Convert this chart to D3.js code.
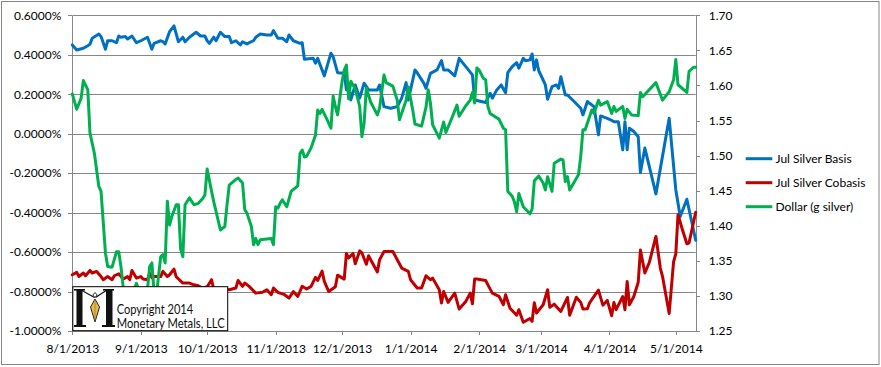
<!DOCTYPE html>
<html><head><meta charset="utf-8">
<script src="https://cdn.jsdelivr.net/npm/d3@7/dist/d3.min.js"></script>
<style>
html,body{margin:0;padding:0;background:#fff;}
svg{display:block;font-family:Lato,"Liberation Sans",sans-serif;}
</style></head>
<body><svg id="c" width="881" height="367"></svg>
<script>
const basisDates = ["2013-08-01","2013-08-03","2013-08-06","2013-08-08","2013-08-09","2013-08-10","2013-08-13","2013-08-14","2013-08-16","2013-08-17","2013-08-19","2013-08-21","2013-08-22","2013-08-23","2013-08-25","2013-08-26","2013-08-28","2013-08-30","2013-09-01","2013-09-04","2013-09-06","2013-09-07","2013-09-10","2013-09-11","2013-09-12","2013-09-14","2013-09-16","2013-09-18","2013-09-20","2013-09-21","2013-09-23","2013-09-26","2013-09-28","2013-09-30","2013-10-01","2013-10-02","2013-10-04","2013-10-05","2013-10-07","2013-10-09","2013-10-11","2013-10-12","2013-10-14","2013-10-16","2013-10-17","2013-10-19","2013-10-20","2013-10-22","2013-10-23","2013-10-25","2013-10-28","2013-10-30","2013-10-31","2013-11-02","2013-11-04","2013-11-06","2013-11-07","2013-11-09","2013-11-12","2013-11-13","2013-11-14","2013-11-18","2013-11-19","2013-11-20","2013-11-23","2013-11-26","2013-11-27","2013-11-29","2013-12-02","2013-12-03","2013-12-04","2013-12-05","2013-12-07","2013-12-09","2013-12-11","2013-12-13","2013-12-17","2013-12-18","2013-12-20","2013-12-23","2013-12-26","2013-12-28","2013-12-30","2013-12-31","2014-01-03","2014-01-04","2014-01-07","2014-01-08","2014-01-10","2014-01-13","2014-01-15","2014-01-16","2014-01-18","2014-01-21","2014-01-23","2014-01-26","2014-01-29","2014-01-30","2014-02-02","2014-02-04","2014-02-06","2014-02-07","2014-02-09","2014-02-11","2014-02-13","2014-02-14","2014-02-16","2014-02-18","2014-02-19","2014-02-21","2014-02-22","2014-02-24","2014-02-25","2014-02-26","2014-02-27","2014-02-28","2014-03-02","2014-03-03","2014-03-04","2014-03-06","2014-03-08","2014-03-09","2014-03-10","2014-03-12","2014-03-13","2014-03-16","2014-03-19","2014-03-20","2014-03-22","2014-03-23","2014-03-25","2014-03-27","2014-03-28","2014-03-31","2014-04-01","2014-04-03","2014-04-05","2014-04-07","2014-04-08","2014-04-09","2014-04-10","2014-04-12","2014-04-14","2014-04-15","2014-04-17","2014-04-22","2014-04-28","2014-05-01","2014-05-03","2014-05-06","2014-05-10"];
const basisValues = [0.450,0.424,0.433,0.446,0.453,0.484,0.505,0.492,0.428,0.471,0.471,0.461,0.495,0.489,0.492,0.480,0.495,0.461,0.471,0.489,0.428,0.458,0.471,0.466,0.455,0.517,0.546,0.466,0.489,0.466,0.489,0.514,0.495,0.495,0.471,0.458,0.489,0.471,0.514,0.492,0.492,0.461,0.471,0.450,0.466,0.455,0.461,0.471,0.489,0.505,0.500,0.500,0.522,0.484,0.484,0.466,0.500,0.471,0.458,0.461,0.377,0.382,0.357,0.382,0.293,0.408,0.390,0.309,0.306,0.222,0.256,0.171,0.247,0.180,0.256,0.222,0.222,0.247,0.137,0.129,0.137,0.180,0.259,0.171,0.323,0.309,0.256,0.230,0.306,0.323,0.370,0.323,0.323,0.293,0.382,0.340,0.298,0.171,0.163,0.158,0.205,0.180,0.222,0.247,0.208,0.309,0.340,0.360,0.332,0.382,0.370,0.374,0.404,0.323,0.374,0.319,0.272,0.247,0.175,0.238,0.247,0.230,0.289,0.196,0.196,0.163,0.129,0.095,0.163,0.154,0.137,-0.006,0.090,0.078,0.073,0.061,0.061,-0.082,0.061,-0.082,0.028,0.011,-0.015,-0.197,-0.073,-0.305,0.078,-0.285,-0.420,-0.332,-0.540];

const cobasisDates = ["2013-08-01","2013-08-03","2013-08-04","2013-08-06","2013-08-07","2013-08-09","2013-08-10","2013-08-12","2013-08-14","2013-08-15","2013-08-17","2013-08-19","2013-08-20","2013-08-22","2013-08-24","2013-08-26","2013-08-27","2013-08-28","2013-08-30","2013-09-01","2013-09-02","2013-09-04","2013-09-05","2013-09-06","2013-09-07","2013-09-09","2013-09-10","2013-09-11","2013-09-13","2013-09-14","2013-09-16","2013-09-17","2013-09-20","2013-09-23","2013-09-25","2013-09-27","2013-09-29","2013-10-01","2013-10-03","2013-10-04","2013-10-07","2013-10-11","2013-10-14","2013-10-15","2013-10-17","2013-10-18","2013-10-20","2013-10-23","2013-10-26","2013-10-28","2013-10-30","2013-10-31","2013-11-02","2013-11-03","2013-11-05","2013-11-07","2013-11-09","2013-11-11","2013-11-13","2013-11-15","2013-11-17","2013-11-19","2013-11-20","2013-11-22","2013-11-23","2013-11-25","2013-11-28","2013-11-29","2013-12-02","2013-12-03","2013-12-04","2013-12-06","2013-12-07","2013-12-09","2013-12-10","2013-12-12","2013-12-13","2013-12-17","2013-12-18","2013-12-20","2013-12-24","2013-12-26","2013-12-28","2013-12-31","2014-01-01","2014-01-04","2014-01-06","2014-01-08","2014-01-10","2014-01-11","2014-01-14","2014-01-15","2014-01-16","2014-01-18","2014-01-21","2014-01-23","2014-01-26","2014-01-28","2014-01-29","2014-01-30","2014-01-31","2014-02-04","2014-02-05","2014-02-07","2014-02-10","2014-02-12","2014-02-13","2014-02-15","2014-02-18","2014-02-19","2014-02-21","2014-02-24","2014-02-25","2014-02-26","2014-02-27","2014-03-02","2014-03-04","2014-03-05","2014-03-07","2014-03-10","2014-03-13","2014-03-14","2014-03-17","2014-03-19","2014-03-20","2014-03-22","2014-03-23","2014-03-25","2014-03-27","2014-03-29","2014-03-31","2014-04-02","2014-04-03","2014-04-04","2014-04-07","2014-04-08","2014-04-09","2014-04-10","2014-04-12","2014-04-14","2014-04-15","2014-04-17","2014-04-19","2014-04-22","2014-04-24","2014-04-25","2014-04-28","2014-04-30","2014-05-01","2014-05-02","2014-05-04","2014-05-06","2014-05-07","2014-05-10"];
const cobasisValues = [-0.715,-0.703,-0.724,-0.706,-0.720,-0.693,-0.706,-0.698,-0.724,-0.740,-0.724,-0.740,-0.720,-0.710,-0.737,-0.724,-0.740,-0.693,-0.732,-0.724,-0.737,-0.740,-0.706,-0.730,-0.724,-0.724,-0.724,-0.698,-0.724,-0.715,-0.686,-0.725,-0.757,-0.757,-0.766,-0.771,-0.782,-0.776,-0.740,-0.791,-0.786,-0.791,-0.782,-0.744,-0.774,-0.757,-0.774,-0.808,-0.804,-0.791,-0.816,-0.782,-0.804,-0.808,-0.816,-0.833,-0.800,-0.825,-0.773,-0.787,-0.774,-0.728,-0.744,-0.696,-0.749,-0.800,-0.776,-0.717,-0.737,-0.607,-0.630,-0.607,-0.659,-0.594,-0.604,-0.662,-0.619,-0.701,-0.639,-0.597,-0.597,-0.639,-0.681,-0.698,-0.740,-0.782,-0.782,-0.720,-0.740,-0.732,-0.791,-0.858,-0.800,-0.855,-0.808,-0.889,-0.850,-0.808,-0.862,-0.737,-0.737,-0.744,-0.766,-0.808,-0.824,-0.867,-0.816,-0.885,-0.920,-0.892,-0.956,-0.937,-0.951,-0.857,-0.909,-0.867,-0.791,-0.880,-0.864,-0.901,-0.830,-0.920,-0.829,-0.855,-0.888,-0.887,-0.857,-0.825,-0.793,-0.869,-0.845,-0.923,-0.855,-0.892,-0.825,-0.892,-0.749,-0.867,-0.825,-0.753,-0.590,-0.706,-0.653,-0.521,-0.681,-0.724,-0.911,-0.649,-0.609,-0.411,-0.487,-0.558,-0.553,-0.398];

const dollarDates = ["2013-08-01","2013-08-03","2013-08-05","2013-08-06","2013-08-08","2013-08-09","2013-08-11","2013-08-13","2013-08-14","2013-08-16","2013-08-17","2013-08-19","2013-08-21","2013-08-22","2013-08-23","2013-08-24","2013-08-26","2013-08-28","2013-08-30","2013-08-31","2013-09-02","2013-09-04","2013-09-05","2013-09-06","2013-09-07","2013-09-08","2013-09-10","2013-09-11","2013-09-12","2013-09-13","2013-09-14","2013-09-15","2013-09-17","2013-09-18","2013-09-19","2013-09-20","2013-09-21","2013-09-23","2013-09-25","2013-09-27","2013-09-29","2013-09-30","2013-10-01","2013-10-03","2013-10-04","2013-10-07","2013-10-09","2013-10-10","2013-10-11","2013-10-14","2013-10-15","2013-10-17","2013-10-18","2013-10-19","2013-10-21","2013-10-22","2013-10-23","2013-10-24","2013-10-25","2013-10-30","2013-10-31","2013-11-01","2013-11-02","2013-11-03","2013-11-04","2013-11-06","2013-11-08","2013-11-11","2013-11-12","2013-11-13","2013-11-14","2013-11-15","2013-11-17","2013-11-19","2013-11-20","2013-11-21","2013-11-22","2013-11-24","2013-11-26","2013-11-27","2013-11-28","2013-11-29","2013-12-01","2013-12-02","2013-12-03","2013-12-04","2013-12-05","2013-12-07","2013-12-09","2013-12-10","2013-12-11","2013-12-12","2013-12-14","2013-12-17","2013-12-18","2013-12-20","2013-12-21","2013-12-24","2013-12-26","2013-12-27","2013-12-30","2013-12-31","2014-01-02","2014-01-03","2014-01-06","2014-01-08","2014-01-09","2014-01-10","2014-01-11","2014-01-14","2014-01-16","2014-01-17","2014-01-20","2014-01-22","2014-01-23","2014-01-26","2014-01-28","2014-01-29","2014-01-30","2014-01-31","2014-02-01","2014-02-03","2014-02-04","2014-02-05","2014-02-06","2014-02-10","2014-02-12","2014-02-13","2014-02-14","2014-02-16","2014-02-17","2014-02-18","2014-02-19","2014-02-21","2014-02-24","2014-02-25","2014-02-26","2014-02-28","2014-03-02","2014-03-03","2014-03-04","2014-03-06","2014-03-07","2014-03-10","2014-03-11","2014-03-12","2014-03-13","2014-03-14","2014-03-18","2014-03-19","2014-03-20","2014-03-21","2014-03-24","2014-03-25","2014-03-27","2014-03-28","2014-03-31","2014-04-02","2014-04-03","2014-04-04","2014-04-07","2014-04-08","2014-04-09","2014-04-11","2014-04-14","2014-04-15","2014-04-16","2014-04-22","2014-04-25","2014-04-28","2014-04-30","2014-05-01","2014-05-02","2014-05-06","2014-05-07","2014-05-09","2014-05-10"];
const dollarValues = [1.588,1.566,1.582,1.607,1.594,1.532,1.503,1.456,1.449,1.361,1.342,1.341,1.363,1.363,1.342,1.313,1.294,1.300,1.318,1.309,1.294,1.309,1.342,1.347,1.305,1.300,1.356,1.359,1.347,1.435,1.401,1.413,1.430,1.430,1.367,1.356,1.430,1.440,1.430,1.432,1.439,1.444,1.481,1.449,1.434,1.394,1.399,1.430,1.458,1.466,1.468,1.461,1.423,1.418,1.399,1.373,1.382,1.373,1.380,1.382,1.373,1.427,1.425,1.432,1.437,1.427,1.449,1.457,1.503,1.508,1.498,1.499,1.511,1.529,1.565,1.560,1.566,1.553,1.539,1.585,1.570,1.558,1.605,1.622,1.629,1.581,1.606,1.595,1.570,1.527,1.546,1.596,1.576,1.558,1.568,1.615,1.604,1.599,1.579,1.551,1.579,1.598,1.565,1.545,1.542,1.569,1.594,1.575,1.544,1.525,1.548,1.533,1.556,1.572,1.556,1.571,1.579,1.590,1.575,1.625,1.622,1.610,1.608,1.570,1.560,1.552,1.539,1.537,1.449,1.442,1.434,1.420,1.446,1.427,1.417,1.424,1.464,1.471,1.461,1.451,1.470,1.449,1.489,1.495,1.494,1.463,1.470,1.451,1.473,1.499,1.537,1.537,1.565,1.560,1.579,1.572,1.577,1.560,1.570,1.563,1.570,1.553,1.566,1.558,1.557,1.590,1.584,1.604,1.579,1.591,1.608,1.637,1.601,1.590,1.620,1.626,1.626];

const seriesNames = ["Jul Silver Basis","Jul Silver Cobasis","Dollar (g silver)"];
const seriesColors = ["#0070C0","#C00000","#00B050"];
const leftTicks = [-1.0,-0.8,-0.6,-0.4,-0.2,0,0.2,0.4,0.6];
const rightTicks = [1.25,1.30,1.35,1.40,1.45,1.50,1.55,1.60,1.65,1.70];
const monthTicks = ["2013-08-01","2013-09-01","2013-10-01","2013-11-01","2013-12-01","2014-01-01","2014-02-01","2014-03-01","2014-04-01","2014-05-01"];
const xDomain = ["2013-08-01","2014-05-10"];
const logoLines = ["Copyright 2014","Monetary Metals, LLC"];

const parse = d3.timeParse("%Y-%m-%d");
const svg = d3.select("#c");
const GRID = "#868686";
const L = 72.3, R = 695.7, T = 15.3, B = 331;

svg.append("rect").attr("x",1.5).attr("y",1.5).attr("width",877.5).attr("height",363)
  .attr("fill","#fff").attr("stroke",GRID).attr("stroke-width",1);

const x = d3.scaleTime().domain(xDomain.map(parse)).range([L, R]);
const yL = d3.scaleLinear().domain([-1.0, 0.6]).range([B, T]);
const yR = d3.scaleLinear().domain([1.25, 1.70]).range([B, T]);

// gridlines
svg.append("g").selectAll("line").data(leftTicks).join("line")
  .attr("x1",L).attr("x2",R).attr("y1",d=>Math.round(yL(d))+0.5).attr("y2",d=>Math.round(yL(d))+0.5)
  .attr("stroke",GRID).attr("stroke-width",1);

function styleAxis(g){
  g.selectAll(".domain").attr("stroke",GRID).attr("shape-rendering","crispEdges");
  g.selectAll(".tick line").attr("stroke",GRID).attr("shape-rendering","crispEdges");
  g.selectAll("text").attr("fill","#000").attr("font-size","12px").attr("font-family","Lato, 'Liberation Sans', sans-serif");
}
const fmtL = d => (d<0?"-":"") + Math.abs(d).toFixed(4) + "%";
svg.append("g").attr("transform",`translate(${L},0)`)
  .call(d3.axisLeft(yL).tickValues(leftTicks).tickFormat(fmtL).tickSize(4).tickSizeOuter(0).tickPadding(7))
  .call(styleAxis);
svg.append("g").attr("transform",`translate(${R},0)`)
  .call(d3.axisRight(yR).tickValues(rightTicks).tickFormat(d=>d.toFixed(2)).tickSize(4).tickSizeOuter(0).tickPadding(9))
  .call(styleAxis);
svg.append("g").attr("transform",`translate(0,${B})`)
  .call(d3.axisBottom(x).tickValues(monthTicks.map(parse)).tickFormat(d3.timeFormat("%-m/%-d/%Y")).tickSize(4).tickSizeOuter(0).tickPadding(9))
  .call(styleAxis);

// series
function series(dates, values){ return dates.map((d,i)=>({date:parse(d), v:values[i]})); }
const basis = series(basisDates, basisValues);
const cobasis = series(cobasisDates, cobasisValues);
const dollar = series(dollarDates, dollarValues);

const lineL = d3.line().x(d=>x(d.date)).y(d=>yL(d.v));
const lineR = d3.line().x(d=>x(d.date)).y(d=>yR(d.v));
const lg = svg.append("g").attr("fill","none").attr("stroke-width",3).attr("stroke-linejoin","round").attr("stroke-linecap","round");
lg.append("path").datum(basis).attr("d",lineL).attr("stroke",seriesColors[0]);
lg.append("path").datum(cobasis).attr("d",lineL).attr("stroke",seriesColors[1]);
lg.append("path").datum(dollar).attr("d",lineR).attr("stroke",seriesColors[2]);

// legend
const legY = [158.7, 182.7, 206.7];
const leg = svg.append("g");
seriesNames.forEach((n,i)=>{
  leg.append("line").attr("x1",745.7).attr("x2",772.3).attr("y1",legY[i]).attr("y2",legY[i])
    .attr("stroke",seriesColors[i]).attr("stroke-width",3);
  leg.append("text").attr("x",775.5).attr("y",legY[i]).attr("dy","0.35em")
    .attr("font-size","12px").attr("fill","#000").text(n);
});

// logo box
const lb = svg.append("g");
lb.append("rect").attr("x",72.8).attr("y",286.7).attr("width",154.9).attr("height",44)
  .attr("fill","#fff").attr("stroke","#000").attr("stroke-width",1);
// stylised M
lb.append("rect").attr("x",76.5).attr("y",289.5).attr("width",6).attr("height",36).attr("fill","#111");
lb.append("rect").attr("x",74).attr("y",289).attr("width",11).attr("height",1.6).attr("fill","#111");
lb.append("rect").attr("x",74).attr("y",325).attr("width",12).attr("height",2).attr("fill","#111");
lb.append("rect").attr("x",106).attr("y",289.5).attr("width",6.5).attr("height",36).attr("fill","#111");
lb.append("rect").attr("x",103).attr("y",289).attr("width",11).attr("height",1.6).attr("fill","#111");
lb.append("rect").attr("x",102).attr("y",325).attr("width",13).attr("height",2).attr("fill","#111");
lb.append("path").attr("d","M81,290 L94.5,297.5 M107,290 L95.5,297.5").attr("stroke","#111").attr("stroke-width",1.2).attr("fill","none");
lb.append("path").attr("d","M95,292.5 L97.2,295 L95,297.5 L92.8,295 Z").attr("fill","#fff").attr("stroke","#111").attr("stroke-width",0.9);
lb.append("path").attr("d","M95,299 L99.5,307 L95,322 L90.5,307 Z").attr("fill","#E9B949").attr("stroke","#111").attr("stroke-width",0.9);
lb.append("path").attr("d","M95,299 L95,322").attr("stroke","#8a6a1a").attr("stroke-width",0.6);
const logoLen = [76.5, 108];
logoLines.forEach((t,i)=>{
  lb.append("text").attr("x",116.7).attr("y",[314,328][i]).attr("font-size","12.5px").attr("fill","#111")
    .attr("textLength",logoLen[i]).attr("lengthAdjust","spacingAndGlyphs").text(t);
});
</script></body></html>
